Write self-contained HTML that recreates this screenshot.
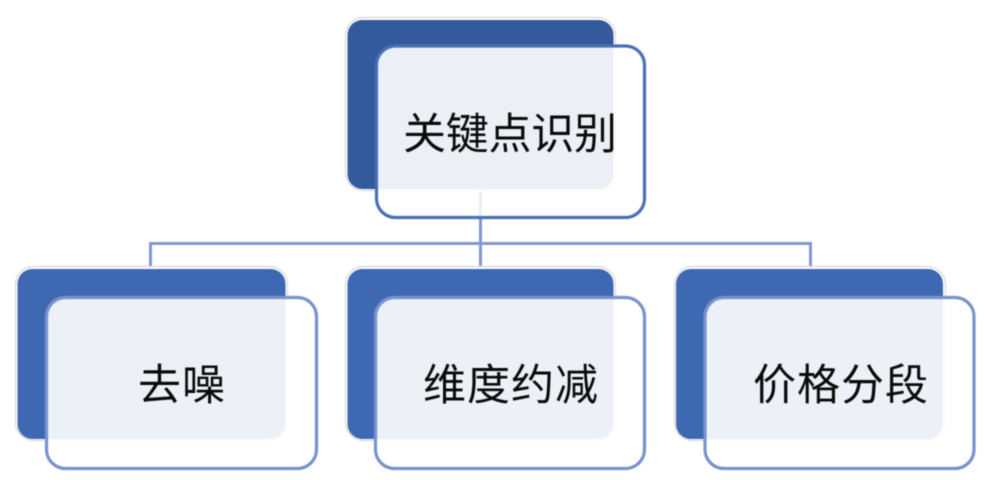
<!DOCTYPE html>
<html><head><meta charset="utf-8"><style>
html,body{margin:0;padding:0;background:#fff}
svg{display:block;filter:blur(0.45px)}
text{font-family:"Liberation Sans","Noto Sans CJK SC",sans-serif;font-size:43px;fill:#0a0a0a}
</style></head><body>
<svg width="984" height="480" viewBox="0 0 984 480" xmlns="http://www.w3.org/2000/svg">
<g fill="none" stroke="#7f98d2" stroke-width="3">
<path d="M150.500 267V243.500H810.500V267"/>
<path d="M480.500 218V267"/>
</g>
<g stroke="#d8d8d8" stroke-width="1.200" fill="#fff">
<rect x="345.500" y="17.500" width="270" height="173" rx="18"/>
<rect x="15.500" y="266.500" width="272" height="174" rx="18"/>
<rect x="345.500" y="266.500" width="270" height="174" rx="18"/>
<rect x="674.500" y="266.500" width="271" height="174" rx="18"/>
</g>
<rect x="347.500" y="20" width="266" height="169" rx="15" fill="#345a9e"/>
<rect x="17.500" y="269" width="268" height="170" rx="15" fill="#3e68b1"/>
<rect x="347.500" y="269" width="266" height="170" rx="15" fill="#3e68b1"/>
<rect x="676" y="269" width="267" height="170" rx="15" fill="#3e68b1"/>
<g fill="#fff" fill-opacity="0.9" stroke-width="3.200">
<rect x="376.500" y="46" width="268" height="171.500" rx="19" stroke="#4a70b4"/>
<rect x="46.500" y="297.500" width="270" height="171" rx="19" stroke="#7992cf"/>
<rect x="375.500" y="297.500" width="269" height="171" rx="19" stroke="#7992cf"/>
<rect x="705" y="297.500" width="269" height="171" rx="19" stroke="#7992cf"/>
</g>
<path d="M480.500 191V216" stroke="#e9edf7" stroke-width="3"/>
<text x="403" y="149" textLength="214" lengthAdjust="spacing">关键点识别</text>
<text x="138" y="400" textLength="87" lengthAdjust="spacing">去噪</text>
<text x="423" y="400" textLength="175" lengthAdjust="spacing">维度约减</text>
<text x="753" y="400" textLength="175" lengthAdjust="spacing">价格分段</text>
</svg>
</body></html>
